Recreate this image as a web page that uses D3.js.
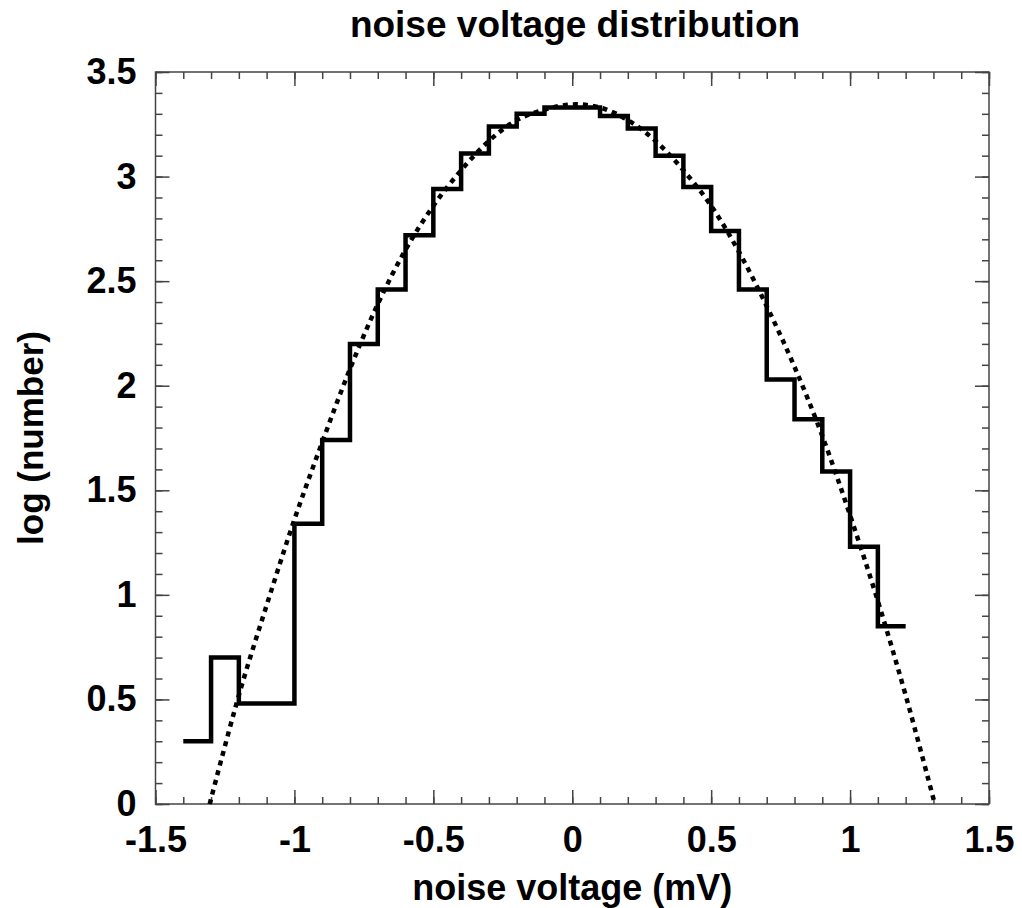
<!DOCTYPE html>
<html>
<head>
<meta charset="utf-8">
<script src="https://cdn.jsdelivr.net/npm/d3@7"></script>
<style>
  body { margin: 0; background: #fff; }
  text { font-family: "Liberation Sans", Arial, sans-serif; font-weight: bold; fill: #000; }
</style>
</head>
<body>
<svg width="1022" height="908"></svg>
<script>
// Histogram bins (left edges, width 0.1) and log10 counts
const binLeft = [-1.4, -1.3, -1.2, -1.1, -1.0, -0.9, -0.8, -0.7, -0.6, -0.5, -0.4, -0.3, -0.2, -0.1,
                 0.0, 0.1, 0.2, 0.3, 0.4, 0.5, 0.6, 0.7, 0.8, 0.9, 1.0, 1.1];
const logCount = [0.30, 0.70, 0.48, 0.48, 1.34, 1.74, 2.20, 2.46, 2.72, 2.94, 3.11, 3.24, 3.30, 3.33,
                  3.33, 3.29, 3.23, 3.10, 2.95, 2.74, 2.46, 2.03, 1.84, 1.59, 1.23, 0.85];
const binWidth = 0.1;

// Fitted curve (dotted)
const fitX = [-1.305, -1.2, -1.1, -1.0, -0.9, -0.8, -0.7, -0.6, -0.5, -0.4, -0.3, -0.2, -0.1, 0,
              0.1, 0.2, 0.3, 0.4, 0.5, 0.6, 0.7, 0.8, 0.9, 1.0, 1.1, 1.2, 1.305];
const fitY = [0, 0.52, 0.95, 1.36, 1.73, 2.08, 2.39, 2.65, 2.86, 3.03, 3.17, 3.27, 3.32, 3.345,
              3.33, 3.27, 3.17, 3.03, 2.86, 2.64, 2.38, 2.09, 1.76, 1.38, 0.97, 0.52, 0];

// Tick labels
const xTicks = [-1.5, -1, -0.5, 0, 0.5, 1, 1.5];
const yTicks = [0, 0.5, 1, 1.5, 2, 2.5, 3, 3.5];

const margin = {top: 72, right: 33, bottom: 104, left: 155.5};
const width = 1022 - margin.left - margin.right,
      height = 908 - margin.top - margin.bottom;

const svg = d3.select("svg");
const g = svg.append("g")
    .attr("transform", `translate(${margin.left},${margin.top})`);

const x = d3.scaleLinear().domain([-1.5, 1.5]).range([0, width]);
const y = d3.scaleLinear().domain([0, 3.5]).range([height, 0]);

const xMinor = d3.range(-15, 16).map(i => i / 10);
const yMinor = d3.range(0, 36).map(i => i / 10);
const fmt = d => String(d);

// minor ticks, all four sides, pointing inward
g.append("g").attr("class", "ax").attr("transform", `translate(0,${height})`)
    .call(d3.axisBottom(x).tickValues(xMinor).tickSize(-7).tickFormat(""));
g.append("g").attr("class", "ax")
    .call(d3.axisTop(x).tickValues(xMinor).tickSize(-7).tickFormat(""));
g.append("g").attr("class", "ax")
    .call(d3.axisLeft(y).tickValues(yMinor).tickSize(-7).tickFormat(""));
g.append("g").attr("class", "ax").attr("transform", `translate(${width},0)`)
    .call(d3.axisRight(y).tickValues(yMinor).tickSize(-7).tickFormat(""));

// major ticks with labels
g.append("g").attr("class", "ax").attr("transform", `translate(0,${height})`)
    .call(d3.axisBottom(x).tickValues(xTicks).tickSize(-14).tickPadding(22).tickFormat(fmt));
g.append("g").attr("class", "ax")
    .call(d3.axisTop(x).tickValues(xTicks).tickSize(-14).tickFormat(""));
g.append("g").attr("class", "ax")
    .call(d3.axisLeft(y).tickValues(yTicks).tickSize(-14).tickPadding(19).tickFormat(fmt));
g.append("g").attr("class", "ax").attr("transform", `translate(${width},0)`)
    .call(d3.axisRight(y).tickValues(yTicks).tickSize(-14).tickFormat(""));

g.selectAll(".ax .domain").remove();
g.selectAll(".ax line").attr("stroke", "#444").attr("stroke-width", 1.5);
g.selectAll(".ax text")
    .style("font-family", '"Liberation Sans", Arial, sans-serif')
    .style("font-weight", "bold")
    .style("font-size", "36px")
    .attr("fill", "#000");

// frame
g.append("rect")
    .attr("x", 0).attr("y", 0)
    .attr("width", width).attr("height", height)
    .attr("fill", "none")
    .attr("stroke", "#444")
    .attr("stroke-width", 1.5);

// dotted fit curve
const fitPts = fitX.map((v, i) => [v, fitY[i]]);
g.append("path")
    .datum(fitPts)
    .attr("fill", "none")
    .attr("stroke", "#000")
    .attr("stroke-width", 4.5)
    .attr("stroke-dasharray", "5,5")
    .attr("d", d3.line().x(d => x(d[0])).y(d => y(d[1])).curve(d3.curveCatmullRom));

// step histogram
const stepPts = binLeft.map((v, i) => [v, logCount[i]]);
stepPts.push([binLeft[binLeft.length - 1] + binWidth, logCount[logCount.length - 1]]);
g.append("path")
    .datum(stepPts)
    .attr("fill", "none")
    .attr("stroke", "#000")
    .attr("stroke-width", 4.5)
    .attr("stroke-linejoin", "miter")
    .attr("d", d3.line().x(d => x(d[0])).y(d => y(d[1])).curve(d3.curveStepAfter));

// titles
svg.append("text")
    .attr("x", 575)
    .attr("y", 37)
    .attr("text-anchor", "middle")
    .style("font-size", "37px")
    .text("noise voltage distribution");

svg.append("text")
    .attr("x", margin.left + width / 2)
    .attr("y", 900)
    .attr("text-anchor", "middle")
    .style("font-size", "36px")
    .text("noise voltage (mV)");

svg.append("text")
    .attr("transform", `translate(43,${margin.top + height / 2}) rotate(-90)`)
    .attr("text-anchor", "middle")
    .style("font-size", "35px")
    .text("log (number)");
</script>
</body>
</html>
